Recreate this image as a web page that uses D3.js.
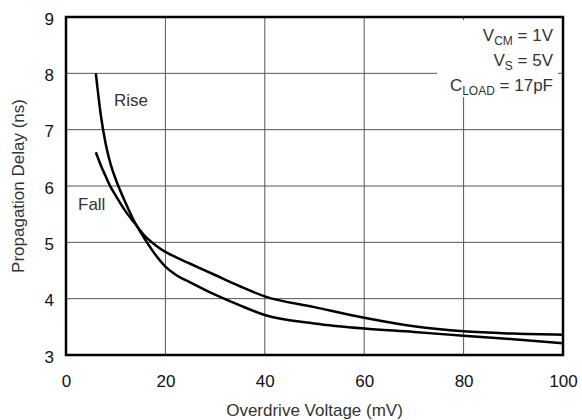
<!DOCTYPE html>
<html>
<head>
<meta charset="utf-8">
<script src="https://cdn.jsdelivr.net/npm/d3@7"></script>
<style>
  html, body { margin: 0; padding: 0; background: #fff; }
  svg { display: block; font-family: "Liberation Sans", Arial, sans-serif; }
</style>
</head>
<body>
<svg id="chart" width="582" height="420"></svg>
<script>
// Data
const overdrive = [6, 7, 8, 9, 10, 12, 14, 16, 18, 20, 22, 25, 30, 35, 40, 50, 60, 70, 80, 90, 100];
const rise = [8.0, 7.26, 6.74, 6.38, 6.12, 5.70, 5.33, 5.04, 4.78, 4.57, 4.43, 4.29, 4.07, 3.88, 3.71, 3.56, 3.47, 3.41, 3.34, 3.28, 3.21];
const fall = [6.60, 6.37, 6.17, 5.98, 5.83, 5.55, 5.32, 5.10, 4.95, 4.83, 4.74, 4.62, 4.42, 4.22, 4.04, 3.85, 3.66, 3.51, 3.42, 3.38, 3.36];
const xTicks = [0, 20, 40, 60, 80, 100];
const yTicks = [3, 4, 5, 6, 7, 8, 9];
const xTitle = "Overdrive Voltage (mV)";
const yTitle = "Propagation Delay (ns)";

const svg = d3.select("#chart");
const L = 66, R = 563, T = 17, B = 355;
const x = d3.scaleLinear().domain([0, 100]).range([L, R]);
const y = d3.scaleLinear().domain([3, 9]).range([B, T]);

// grid
const g = svg.append("g");
g.selectAll(".vg").data(xTicks.slice(1, -1)).join("line")
  .attr("x1", d => x(d)).attr("x2", d => x(d)).attr("y1", T).attr("y2", B)
  .attr("stroke", "#555").attr("stroke-width", 1);
g.selectAll(".hg").data(yTicks.slice(1, -1)).join("line")
  .attr("x1", L).attr("x2", R).attr("y1", d => y(d)).attr("y2", d => y(d))
  .attr("stroke", "#555").attr("stroke-width", 1);

// annotation background
svg.append("rect").attr("x", 437).attr("y", 20).attr("width", 121).attr("height", 77).attr("fill", "#fff");

// curves
const line = d3.line().x(d => x(d[0])).y(d => y(d[1])).curve(d3.curveMonotoneX);
[rise, fall].forEach(s => {
  svg.append("path").datum(overdrive.map((v, i) => [v, s[i]]))
    .attr("d", line).attr("fill", "none").attr("stroke", "#000").attr("stroke-width", 2.5);
});

// border
svg.append("rect").attr("x", L).attr("y", T).attr("width", R - L).attr("height", B - T)
  .attr("fill", "none").attr("stroke", "#000").attr("stroke-width", 2.5);

// axes (labels only)
const xAxis = svg.append("g").attr("transform", `translate(0,${B})`)
  .call(d3.axisBottom(x).tickValues(xTicks).tickFormat(d3.format("d")).tickSize(0).tickPadding(20));
xAxis.select(".domain").remove();
xAxis.selectAll("text").attr("font-size", 17).attr("fill", "#111").attr("font-family", "Liberation Sans, Arial, sans-serif");

const yAxis = svg.append("g").attr("transform", `translate(${L},0)`)
  .call(d3.axisLeft(y).tickValues(yTicks).tickFormat(d3.format("d")).tickSize(0).tickPadding(12));
yAxis.select(".domain").remove();
yAxis.selectAll("text").attr("font-size", 17).attr("fill", "#111").attr("dy", "0.42em").attr("font-family", "Liberation Sans, Arial, sans-serif");

// titles
svg.append("text").attr("x", (L + R) / 2).attr("y", 416).attr("text-anchor", "middle")
  .attr("font-size", 17).attr("fill", "#333").text(xTitle);
svg.append("text").attr("transform", `translate(24,${(T + B) / 2}) rotate(-90)`).attr("text-anchor", "middle")
  .attr("font-size", 17).attr("fill", "#333").text(yTitle);

// curve labels
svg.append("text").attr("x", 114).attr("y", 106).attr("font-size", 17).attr("fill", "#333").text("Rise");
svg.append("text").attr("x", 78).attr("y", 210).attr("font-size", 17).attr("fill", "#333").text("Fall");

// condition annotations
const notes = [
  { main: "V", sub: "CM", rest: " = 1V", yb: 41 },
  { main: "V", sub: "S", rest: " = 5V", yb: 66 },
  { main: "C", sub: "LOAD", rest: " = 17pF", yb: 91 }
];
notes.forEach(n => {
  const t = svg.append("text").attr("x", 553).attr("y", n.yb).attr("text-anchor", "end")
    .attr("font-size", 17).attr("fill", "#333");
  t.append("tspan").text(n.main);
  t.append("tspan").attr("font-size", 12).attr("dy", 4).text(n.sub);
  t.append("tspan").attr("dy", -4).text(n.rest);
});
</script>
</body>
</html>
